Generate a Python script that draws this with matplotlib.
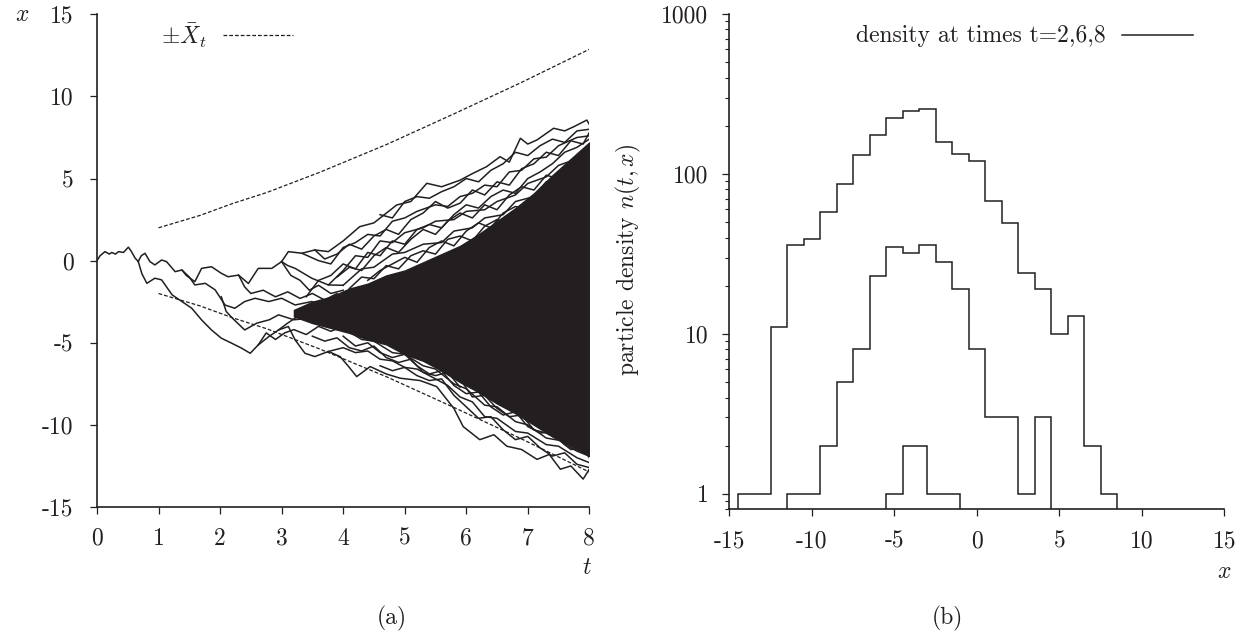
import matplotlib
matplotlib.use("Agg")
import matplotlib.pyplot as plt
from matplotlib.lines import Line2D
from matplotlib.ticker import FixedLocator, LogLocator, NullFormatter

# --- panel (a): branching random walk --------------------------------------
# each path is a list of (t, x) points
trunk = [(0, 0), (0.05, 0.3), (0.13, 0.55), (0.2, 0.4), (0.24, 0.5), (0.3, 0.4),
         (0.35, 0.55), (0.43, 0.5), (0.51, 0.82), (0.56, 0.55), (0.62, 0.15), (0.67, -0.05)]
path_a = [(0.67, -0.05), (0.72, 0.3), (0.78, 0.45), (0.86, -0.06), (0.94, -0.26), (1.05, 0.04),
          (1.13, -0.06), (1.27, -0.67), (1.38, -0.57), (1.45, -0.9), (1.59, -1.28), (1.7, -0.47),
          (1.86, -0.37), (2.02, -0.77), (2.13, -0.98), (2.3, -0.88), (2.46, -1.39), (2.62, -0.47),
          (2.84, -0.47), (3.0, -0.06), (3.11, 0.55), (3.33, 0.45), (3.54, 0.65), (3.76, 0.55),
          (4.0, 1.2), (4.27, 2.07), (4.5, 2.3), (4.87, 3.39), (5.1, 3.6), (5.36, 4.71), (5.6, 4.5),
          (5.9, 4.9), (6.1, 5.3), (6.33, 5.72), (6.55, 6.33), (6.7, 6.0), (6.88, 7.45), (7.0, 7.1),
          (7.15, 7.35), (7.42, 8.06), (7.6, 7.9), (7.75, 8.16), (7.96, 8.56), (8.0, 8.3)]
path_b = [(0.67, -0.05), (0.73, -0.8), (0.81, -1.38), (0.94, -1.07), (1.05, -1.17), (1.22, -2.08),
          (1.38, -2.49), (1.54, -2.9), (1.7, -3.61), (1.86, -4.22), (2.02, -4.72), (2.19, -5.03),
          (2.35, -5.33), (2.49, -5.64), (2.62, -5.13), (2.79, -4.63), (2.95, -4.22), (3.11, -4.01),
          (3.22, -4.83), (3.38, -5.64), (3.54, -5.84), (3.76, -5.53), (3.95, -5.84), (4.1, -6.5),
          (4.22, -7.06), (4.44, -6.45), (4.7, -6.9), (4.93, -7.16), (5.25, -7.3), (5.52, -7.67),
          (5.8, -9.0), (5.95, -10.1), (6.22, -10.9), (6.45, -10.6), (6.66, -11.3), (6.9, -11.5),
          (7.15, -12.1), (7.35, -11.8), (7.53, -12.7), (7.7, -12.5), (7.9, -13.3), (8.0, -12.7)]
path_c = [(1.38, -0.57), (1.5, -1.0), (1.59, -1.48), (1.76, -1.38), (1.92, -1.78), (2.08, -2.7),
          (2.24, -2.9), (2.4, -2.49), (2.57, -2.29), (2.79, -2.49), (3.0, -2.29), (3.22, -2.7),
          (3.49, -2.49), (3.76, -2.9), (4.0, -2.5)]
path_d = [(2.02, -2.2), (2.1, -3.1), (2.2, -3.5), (2.4, -4.22), (2.6, -3.8), (2.8, -3.6),
          (2.95, -3.3), (3.2, -3.6), (3.49, -3.5), (3.76, -3.9), (4.0, -3.7)]
path_e = [(2.95, -4.22), (3.1, -3.8), (3.22, -3.5), (3.49, -2.9), (3.76, -3.1), (4.0, -2.8)]
path_f = [(3.0, -0.06), (3.1, -0.3), (3.22, -0.47), (3.49, -1.07), (3.76, -1.48), (4.0, -1.5)]
path_g = [(3.33, 0.45), (3.6, 0.0), (3.8, -0.2), (4.0, 0.8), (4.2, 1.1), (4.4, 1.6), (4.6, 1.5),
          (4.8, 2.4), (5.0, 2.6), (5.2, 3.0), (5.5, 3.4), (5.7, 3.3), (5.9, 3.9), (6.1, 4.1),
          (6.3, 4.6), (6.5, 4.5), (6.7, 5.4), (6.9, 5.5), (7.1, 6.2), (7.3, 6.3), (7.5, 7.0),
          (7.8, 7.5), (8.0, 7.6)]
path_h = [(3.76, -1.48), (4.0, -0.6), (4.2, 0.3), (4.4, 0.2), (4.6, 1.2), (4.8, 1.1), (5.0, 1.7),
          (5.3, 2.0), (5.5, 2.4), (5.8, 2.5), (6.0, 3.0), (6.3, 3.1), (6.5, 3.6), (6.8, 4.0),
          (7.0, 4.7), (7.3, 5.1), (7.5, 5.8), (7.8, 6.2), (8.0, 7.0)]
path_i = [(4.0, -1.5), (4.3, -0.5), (4.5, -0.4), (4.8, 0.4), (5.0, 0.5), (5.3, 1.0), (5.6, 1.1),
          (5.8, 1.8), (6.1, 2.0), (6.3, 2.6), (6.6, 2.8), (6.8, 3.6), (7.1, 3.9), (7.3, 4.8),
          (7.7, 5.2), (8.0, 6.0)]
path_j = [(3.76, -5.53), (4.0, -5.3), (4.2, -5.6), (4.4, -5.5), (4.6, -6.0), (4.8, -6.1),
          (5.0, -6.5), (5.2, -6.6), (5.5, -7.2), (5.7, -7.6), (5.9, -8.3), (6.1, -8.6),
          (6.3, -9.5), (6.5, -9.6), (6.8, -10.4), (7.0, -10.5), (7.3, -11.2), (7.5, -11.3),
          (7.8, -12.0), (8.0, -12.3)]
path_k = [(3.76, -3.9), (4.0, -4.1), (4.3, -4.8), (4.5, -4.9), (4.8, -5.6), (5.0, -5.7),
          (5.3, -6.4), (5.5, -6.6), (5.8, -7.5), (6.0, -7.8), (6.3, -8.8), (6.5, -8.9),
          (6.8, -9.8), (7.0, -10.0), (7.3, -10.8), (7.6, -11.0), (8.0, -11.8)]
path_l = [(3.54, 0.65), (3.7, 0.1), (3.9, 0.4), (4.1, 1.0), (4.3, 0.7), (4.5, 1.5), (4.7, 1.9),
          (4.9, 1.6), (5.1, 2.5), (5.3, 2.9), (5.5, 3.6), (5.7, 3.2), (5.9, 3.5), (6.1, 4.3),
          (6.3, 4.0), (6.5, 4.8), (6.7, 4.6), (6.9, 5.6), (7.1, 5.9), (7.3, 6.6), (7.5, 6.4),
          (7.7, 7.3), (7.9, 7.1), (8.0, 7.8)]
path_m = [(3.9, -1.0), (4.1, -0.4), (4.3, -0.6), (4.5, 0.3), (4.7, 0.8), (4.9, 0.5), (5.1, 1.3),
          (5.3, 1.9), (5.5, 1.6), (5.7, 2.4), (5.9, 2.9), (6.1, 2.6), (6.3, 3.4), (6.5, 3.1),
          (6.7, 4.0), (6.9, 4.5), (7.1, 4.3), (7.3, 5.2), (7.5, 5.0), (7.7, 6.1), (8.0, 6.6)]
path_n = [(4.4, -1.2), (4.6, -0.6), (4.8, -0.2), (5.0, 0.2), (5.2, -0.1), (5.4, 0.8), (5.6, 1.2),
          (5.8, 0.9), (6.0, 1.8), (6.2, 2.3), (6.4, 2.0), (6.6, 2.9), (6.8, 3.3), (7.0, 3.1),
          (7.2, 3.9), (7.4, 4.4), (7.6, 4.2), (7.8, 5.2), (8.0, 5.5)]
path_o = [(4.6, 2.8), (4.8, 2.6), (5.0, 3.6), (5.2, 3.9), (5.4, 3.8), (5.6, 4.2), (5.8, 4.5),
          (6.0, 5.0), (6.2, 4.8), (6.4, 5.5), (6.6, 5.9), (6.8, 6.6), (7.0, 6.4), (7.2, 7.0),
          (7.4, 7.4), (7.6, 7.2), (7.8, 7.9), (8.0, 8.0)]
path_p = [(4.0, -4.6), (4.2, -5.2), (4.4, -5.0), (4.6, -5.6), (4.8, -5.9), (5.0, -5.7), (5.2, -6.4),
          (5.4, -6.9), (5.6, -6.7), (5.8, -7.6), (6.0, -8.1), (6.2, -8.0), (6.4, -8.9), (6.6, -9.4),
          (6.8, -9.2), (7.0, -10.1), (7.2, -10.5), (7.4, -10.4), (7.6, -11.2), (7.8, -11.6),
          (8.0, -11.9)]
path_q = [(4.6, -6.4), (4.8, -6.7), (5.0, -6.5), (5.2, -7.0), (5.4, -7.3), (5.6, -7.2), (5.8, -8.2),
          (6.0, -8.9), (6.2, -9.6), (6.4, -9.5), (6.6, -10.3), (6.8, -10.9), (7.0, -10.7),
          (7.2, -11.4), (7.4, -11.9), (7.6, -11.7), (7.8, -12.4), (8.0, -12.6)]
path_r = [(2.3, -0.88), (2.4, -1.6), (2.5, -2.0), (2.7, -1.8), (2.9, -2.2), (3.1, -1.9),
          (3.3, -2.3), (3.5, -2.0), (3.7, -2.4), (3.9, -2.0)]
path_s = [(2.62, -5.13), (2.75, -4.4), (2.9, -4.8), (3.05, -4.4), (3.2, -4.2), (3.4, -4.5),
          (3.6, -4.0), (3.8, -4.3), (4.0, -4.0)]
path_u = [(3.0, -0.06), (3.15, -0.9), (3.3, -1.2), (3.45, -1.8), (3.6, -1.5), (3.8, -2.0), (4.0, -1.8)]
path_v = [(3.4, -2.2), (3.6, -1.2), (3.8, -0.9), (4.0, -0.2), (4.2, -0.5), (4.4, 0.5), (4.6, 0.3),
          (4.8, 1.2), (5.0, 1.0), (5.2, 1.9), (5.4, 2.2), (5.6, 2.0), (5.8, 2.8), (6.0, 3.4),
          (6.2, 3.2), (6.4, 3.9), (6.6, 4.3), (6.8, 4.1), (7.0, 5.0), (7.2, 5.4), (7.4, 5.9),
          (7.6, 6.6), (7.8, 6.9), (8.0, 7.4)]
path_w = [(4.1, -1.7), (4.3, -1.0), (4.5, -1.1), (4.7, -0.3), (4.9, -0.5), (5.1, 0.3), (5.3, 0.6),
          (5.5, 0.4), (5.7, 1.3), (5.9, 1.5), (6.1, 1.2), (6.3, 2.1), (6.5, 2.5), (6.7, 2.3),
          (6.9, 3.2), (7.1, 3.5), (7.3, 3.9), (7.5, 4.6), (7.7, 4.9), (8.0, 5.6)]
path_x = [(5.9, -7.2), (6.1, -8.3), (6.3, -8.2), (6.5, -9.0), (6.7, -9.5), (6.9, -9.4),
          (7.1, -10.3), (7.3, -10.5), (7.5, -10.9), (7.7, -11.5), (7.9, -11.4), (8.0, -12.0)]
path_y = [(3.5, -4.6), (3.7, -4.9), (3.9, -4.7), (4.1, -5.3), (4.3, -5.5), (4.5, -5.2),
          (4.7, -5.9), (4.9, -6.2), (5.1, -6.0), (5.3, -6.8), (5.5, -7.0), (5.7, -6.8), (5.9, -7.7)]
paths = [trunk, path_a, path_b, path_c, path_d, path_e, path_f, path_g, path_h, path_i, path_j,
         path_k, path_l, path_m, path_n, path_o, path_p, path_q, path_r, path_s, path_u, path_v,
         path_w, path_x, path_y]

# solid black bulk of trajectories
core_t = [3.2, 3.5, 3.8, 4.1, 4.4, 4.7, 5.0, 5.3, 5.6, 5.9, 6.2, 6.5, 6.8, 7.1, 7.4, 7.7, 8.0]
core_hi = [-3.0, -2.5, -2.2, -1.7, -1.4, -0.9, -0.6, -0.1, 0.4, 0.9, 1.6, 2.4, 3.2, 4.1, 5.2, 6.2, 7.2]
core_lo = [-3.4, -3.8, -4.1, -4.4, -4.8, -5.1, -5.7, -6.1, -6.7, -7.4, -8.0, -8.7, -9.3, -10.0,
           -10.7, -11.3, -11.9]

# +/- Xbar_t
xbar_t = [1.0, 1.67, 2.22, 2.76, 3.62, 4.71, 5.79, 6.88, 8.0]
xbar = [2.0, 2.75, 3.5, 4.15, 5.38, 7.08, 8.92, 10.82, 12.87]

# --- panel (b): histograms (gnuplot histeps) -------------------------------
t2_x = [-5, -4, -2]
t2_n = [1, 2, 1]
t6_x = list(range(-11, 5))
t6_n = [1, 1, 2, 5, 8, 23, 35, 32, 36, 28, 19, 8, 3, 3, 1, 3]
t8_x = list(range(-14, 9))
t8_n = [1, 1, 11, 36, 39, 58, 86, 132, 176, 223, 248, 253, 158, 134, 121, 68, 49, 24, 19, 10, 13, 2, 1]

left_ticks = [-15, -10, -5, 0, 5, 10, 15]
t_ticks = [0, 1, 2, 3, 4, 5, 6, 7, 8]
right_xticks = [-15, -10, -5, 0, 5, 10, 15]
right_yticks = [1, 10, 100, 1000]

INK = '#231f20'
FS = 17

plt.rcParams['font.family'] = 'cmr10'
plt.rcParams['mathtext.fontset'] = 'cm'
plt.rcParams['axes.unicode_minus'] = False

W, H = 1251, 635
fig = plt.figure(figsize=(W / 100, H / 100), dpi=100)


def fx(px):
    return px / W


def fy(py):
    return 1 - py / H


def histeps_edges(xs):
    # step boundaries halfway between points, ends extended by half a spacing
    mids = [(a + b) / 2 for a, b in zip(xs[:-1], xs[1:])]
    left = xs[0] - (mids[0] - xs[0])
    right = xs[-1] + (xs[-1] - mids[-1])
    return [left] + mids + [right]


def style_axes(ax):
    for s in ['top', 'right']:
        ax.spines[s].set_visible(False)
    for s in ['left', 'bottom']:
        ax.spines[s].set_linewidth(1.2)
        ax.spines[s].set_color(INK)
    ax.tick_params(which='major', direction='out', length=5, width=0.9, color=INK,
                   labelsize=FS, labelcolor=INK)
    ax.tick_params(which='minor', direction='out', length=3, width=0.8, color=INK)


# panel (a)
ax1 = fig.add_axes([fx(97), fy(507), fx(589.3) - fx(97), fy(14.3) - fy(507)])
ax1.fill_between(core_t, core_lo, core_hi, color=INK, lw=1.0, edgecolor=INK)
for p in paths:
    ts = [q[0] for q in p]
    xs = [q[1] for q in p]
    ax1.plot(ts, xs, color=INK, lw=1.1)
ax1.plot(xbar_t, xbar, color=INK, lw=0.9, dashes=(3, 1.6))
ax1.plot(xbar_t, [-v for v in xbar], color=INK, lw=0.9, dashes=(3, 1.6))
ax1.set_xlim(0, 8)
ax1.set_ylim(-15, 15)
ax1.xaxis.set_major_locator(FixedLocator(t_ticks))
ax1.set_xticklabels([str(v) for v in t_ticks])
ax1.yaxis.set_major_locator(FixedLocator(left_ticks))
ax1.set_yticklabels([str(v) for v in left_ticks])
style_axes(ax1)
ax1.tick_params(axis='y', pad=12)
ax1.tick_params(axis='x', pad=10)

# panel (b)
ax2 = fig.add_axes([fx(729.3), fy(509.3), fx(1224.3) - fx(729.3), fy(14) - fy(509.3)])
ax2.set_yscale('log')
floor = 0.8
for xs, ns in [(t2_x, t2_n), (t6_x, t6_n), (t8_x, t8_n)]:
    ax2.stairs(ns, histeps_edges(xs), baseline=floor, color=INK, lw=1.1)
ax2.set_xlim(-15, 15)
ax2.set_ylim(floor, 1000)
ax2.xaxis.set_major_locator(FixedLocator(right_xticks))
ax2.set_xticklabels([str(v) for v in right_xticks])
ax2.yaxis.set_major_locator(FixedLocator(right_yticks))
ax2.set_yticklabels([str(v) for v in right_yticks])
ax2.yaxis.set_minor_locator(LogLocator(base=10, subs=range(2, 10)))
ax2.yaxis.set_minor_formatter(NullFormatter())
style_axes(ax2)
ax2.tick_params(axis='y', which='major', pad=10)
ax2.tick_params(axis='x', pad=10)

# key entries
fig.text(fx(161), fy(36), r'$\pm\bar{X}_t$', fontsize=FS, color=INK, ha='left', va='center')
fig.add_artist(Line2D([fx(223), fx(293)], [fy(35), fy(35)], color=INK, lw=0.9, dashes=(3, 1.6)))
fig.text(fx(1106), fy(36), 'density at times t=2,6,8', fontsize=FS, color=INK, ha='right', va='center')
fig.add_artist(Line2D([fx(1122), fx(1193)], [fy(35), fy(35)], color=INK, lw=1.1))

# axis names and captions
fig.text(fx(22), fy(15), '$x$', fontsize=FS, color=INK, ha='center', va='center')
fig.text(fx(587), fy(568), '$t$', fontsize=FS, color=INK, ha='center', va='center')
fig.text(fx(1224), fy(572), '$x$', fontsize=FS, color=INK, ha='center', va='center')
fig.text(fx(628), fy(260), 'particle density $n(t,x)$', fontsize=FS, color=INK,
         rotation=90, ha='center', va='center')
fig.text(fx(392), fy(618), '(a)', fontsize=FS, color=INK, ha='center', va='center')
fig.text(fx(947), fy(618), '(b)', fontsize=FS, color=INK, ha='center', va='center')

fig.savefig('out.png', dpi=100)
